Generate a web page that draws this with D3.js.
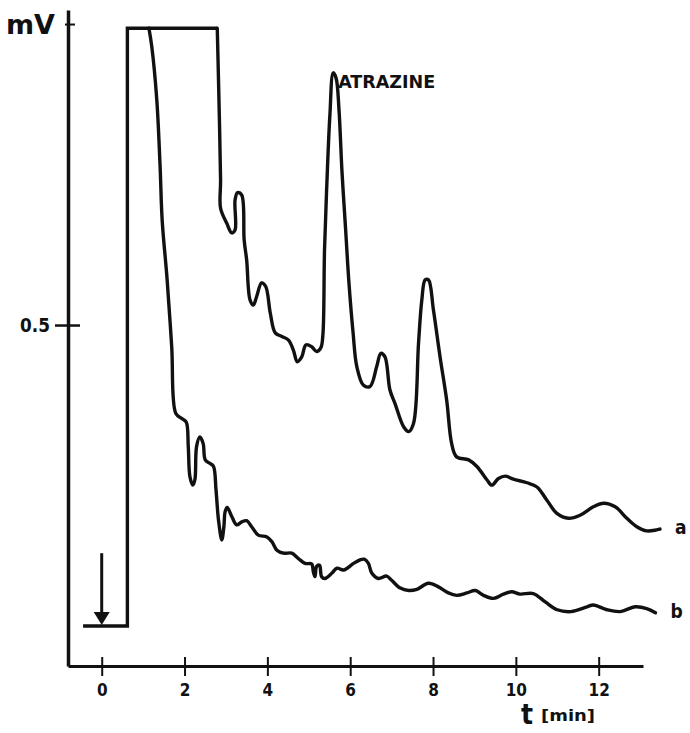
<!DOCTYPE html>
<html>
<head>
<meta charset="utf-8">
<title>Chromatogram - atrazine</title>
<script src="https://cdn.jsdelivr.net/npm/d3@7"></script>
<style>
    html, body { margin: 0; padding: 0; background: #ffffff; }
    svg { display: block; }
    .lbl { font-family: "DejaVu Sans Condensed", "DejaVu Sans", sans-serif; font-weight: bold; fill: #111; }
</style>
</head>
<body>
<svg id="chart"></svg>
<script>
// x ticks (min) and y ticks (mV)
const xTicks = [0, 2, 4, 6, 8, 10, 12];
const yTicks = [0.5];
const yTopTick = [1.0];

// injection baseline, step and off-scale plateau shared by both runs
const stepT = [-0.45, 0.62, 0.62, 2.79];
const stepV = [0, 0, 0.993, 0.993];

// trace a (with atrazine)
const traceAT = [2.79, 2.82, 2.87, 2.87, 3.02, 3.14, 3.22, 3.22, 3.28, 3.38, 3.44, 3.50, 3.58, 3.66, 3.74, 3.86, 3.96,
    4.07, 4.19, 4.35, 4.51, 4.63, 4.72, 4.83, 4.93, 5.07, 5.19, 5.29, 5.34, 5.38, 5.44, 5.51, 5.59, 5.66, 5.73,
    5.80, 5.89, 5.97, 6.07, 6.16, 6.32, 6.48, 6.64, 6.74, 6.84, 6.96, 7.08, 7.29, 7.41, 7.53, 7.65, 7.73,
    7.81, 7.89, 8.01, 8.17, 8.33, 8.45, 8.57, 8.86, 9.06, 9.30, 9.42, 9.58, 9.74, 9.94, 10.27, 10.51, 10.75,
    10.99, 11.27, 11.55, 11.87, 12.12, 12.40, 12.68, 12.92, 13.16, 13.48];
const traceAV = [0.993, 0.907, 0.741, 0.694, 0.669, 0.653, 0.658, 0.708, 0.720, 0.716, 0.641, 0.608, 0.542, 0.533, 0.547, 0.570, 0.564,
    0.520, 0.487, 0.481, 0.475, 0.458, 0.439, 0.447, 0.467, 0.464, 0.456, 0.462, 0.483, 0.625, 0.741, 0.849, 0.919, 0.910, 0.857,
    0.757, 0.658, 0.570, 0.487, 0.431, 0.400, 0.398, 0.431, 0.453, 0.447, 0.392, 0.370, 0.331, 0.323, 0.337, 0.470, 0.542,
    0.575, 0.575, 0.525, 0.447, 0.375, 0.303, 0.281, 0.276, 0.265, 0.243, 0.234, 0.245, 0.249, 0.244, 0.238, 0.231, 0.209,
    0.187, 0.179, 0.184, 0.198, 0.204, 0.198, 0.179, 0.165, 0.158, 0.161];

// trace b (blank)
const traceBT = [1.14, 1.21, 1.33, 1.41, 1.46, 1.58, 1.69, 1.79, 1.93, 2.04, 2.09, 2.13, 2.20, 2.25, 2.29, 2.37, 2.45, 2.50,
    2.62, 2.70, 2.76, 2.82, 2.90, 2.95, 2.98, 3.03, 3.14, 3.26, 3.38, 3.50, 3.62, 3.78, 3.99, 4.11, 4.23, 4.39, 4.59,
    4.75, 4.91, 5.07, 5.11, 5.15, 5.19, 5.26, 5.31, 5.39, 5.56, 5.68, 5.84, 6.08, 6.24, 6.34, 6.44, 6.52, 6.68, 6.88,
    7.00, 7.21, 7.41, 7.61, 7.89, 8.13, 8.37, 8.57, 8.82, 9.02, 9.22, 9.46, 9.70, 9.90, 10.10, 10.42, 10.71, 11.00,
    11.33, 11.72, 11.87, 12.20, 12.52, 12.88, 13.16, 13.37];
const traceBV = [0.993, 0.962, 0.874, 0.763, 0.674, 0.575, 0.464, 0.353, 0.345, 0.339, 0.298, 0.248, 0.234, 0.243, 0.298, 0.314, 0.303, 0.276,
    0.270, 0.265, 0.226, 0.176, 0.143, 0.165, 0.190, 0.197, 0.182, 0.168, 0.173, 0.175, 0.165, 0.151, 0.148, 0.140, 0.126, 0.121, 0.121,
    0.112, 0.104, 0.103, 0.090, 0.082, 0.099, 0.101, 0.082, 0.079, 0.088, 0.096, 0.093, 0.104, 0.110, 0.111, 0.104, 0.088, 0.079, 0.083,
    0.076, 0.063, 0.059, 0.061, 0.071, 0.065, 0.055, 0.051, 0.055, 0.059, 0.051, 0.046, 0.053, 0.057, 0.053, 0.054, 0.040, 0.027,
    0.024, 0.032, 0.035, 0.027, 0.024, 0.032, 0.029, 0.022];

// injection arrow (t, mV from / to)
const arrowT = 0;
const arrowV = [0.121, 0.0];

// annotations
const peakName = 'ATRAZINE';
const peakT = 5.59;
const peakV = 0.920;
const traceLabels = ['a', 'b'];

(function() {
    'use strict';

    const width = 690;
    const height = 733;

    const svg = d3.select('#chart')
        .attr('width', width)
        .attr('height', height);

    svg.append('rect')
        .attr('width', width)
        .attr('height', height)
        .attr('fill', '#ffffff');

    // scales (plot frame runs 68..643 horizontally, 10..666 vertically)
    const x = d3.scaleLinear().domain([-0.814, 13.07]).range([68, 643]);
    const y = d3.scaleLinear().domain([-0.0664, 1.0233]).range([666, 10]);

    const ink = '#111111';

    // X axis, ticks crossing the line
    const xAxis = svg.append('g')
        .attr('transform', `translate(0, ${y.range()[0]})`)
        .call(d3.axisBottom(x).tickValues(xTicks).tickSize(10).tickSizeOuter(0).tickPadding(8));

    xAxis.select('.domain')
        .attr('stroke', ink)
        .attr('stroke-width', 3);

    xAxis.selectAll('.tick line')
        .attr('y1', -9)
        .attr('stroke', ink)
        .attr('stroke-width', 2);

    xAxis.selectAll('.tick text')
        .attr('class', 'lbl')
        .style('font-size', '17px')
        .attr('dy', '0.72em');

    // Y axis with 0.5 tick
    const yAxis = svg.append('g')
        .attr('transform', `translate(${x.range()[0]}, 0)`)
        .call(d3.axisLeft(y).tickValues(yTicks).tickFormat(d3.format('.1f')).tickSize(13).tickSizeOuter(0).tickPadding(5));

    yAxis.select('.domain')
        .attr('stroke', ink)
        .attr('stroke-width', 3.5);

    yAxis.selectAll('.tick line')
        .attr('x2', 12)
        .attr('x1', -13)
        .attr('stroke', ink)
        .attr('stroke-width', 2.5);

    yAxis.selectAll('.tick text')
        .attr('class', 'lbl')
        .style('font-size', '19px')
        .attr('textLength', 30)
        .attr('lengthAdjust', 'spacingAndGlyphs');

    // short top tick (1 mV), right side only
    svg.append('g')
        .attr('transform', `translate(${x.range()[0] - 3}, 0)`)
        .call(d3.axisRight(y).tickValues(yTopTick).tickSize(10).tickSizeOuter(0).tickFormat(''))
        .call(g => g.select('.domain').remove())
        .selectAll('.tick line')
        .attr('stroke', ink)
        .attr('stroke-width', 2);

    // unit labels
    svg.append('text')
        .attr('class', 'lbl')
        .attr('x', 6)
        .attr('y', 34)
        .style('font-size', '26px')
        .attr('textLength', 49)
        .attr('lengthAdjust', 'spacingAndGlyphs')
        .text('mV');

    svg.append('text')
        .attr('class', 'lbl')
        .attr('x', 521)
        .attr('y', 724)
        .style('font-size', '28px')
        .text('t');

    svg.append('text')
        .attr('class', 'lbl')
        .attr('x', 541)
        .attr('y', 721)
        .style('font-size', '15px')
        .attr('textLength', 54)
        .attr('lengthAdjust', 'spacingAndGlyphs')
        .text('[min]');

    // traces
    const toPoints = (ts, vs) => ts.map((t, i) => [t, vs[i]]);

    const straight = d3.line()
        .x(d => x(d[0]))
        .y(d => y(d[1]));

    const smooth = d3.line()
        .x(d => x(d[0]))
        .y(d => y(d[1]))
        .curve(d3.curveCatmullRom.alpha(0.5));

    const traceStyle = sel => sel
        .attr('fill', 'none')
        .attr('stroke', ink)
        .attr('stroke-width', 3.4)
        .attr('stroke-linejoin', 'round')
        .attr('stroke-linecap', 'round');

    svg.append('path')
        .attr('d', straight(toPoints(stepT, stepV)))
        .call(traceStyle)
        .attr('stroke-linejoin', 'miter')
        .attr('stroke-linecap', 'butt');

    svg.append('path')
        .attr('d', smooth(toPoints(traceAT, traceAV)))
        .call(traceStyle);

    svg.append('path')
        .attr('d', smooth(toPoints(traceBT, traceBV)))
        .call(traceStyle);

    // injection arrow
    const ax = x(arrowT);
    svg.append('line')
        .attr('x1', ax)
        .attr('x2', ax)
        .attr('y1', y(arrowV[0]))
        .attr('y2', y(arrowV[1]) - 10)
        .attr('stroke', ink)
        .attr('stroke-width', 3);

    svg.append('path')
        .attr('d', `M${ax - 8},${y(arrowV[1]) - 14} L${ax + 8},${y(arrowV[1]) - 14} L${ax},${y(arrowV[1]) - 1} Z`)
        .attr('fill', ink);

    // peak name
    svg.append('text')
        .attr('class', 'lbl')
        .attr('x', x(peakT) + 5)
        .attr('y', y(peakV) + 16)
        .style('font-size', '17px')
        .attr('textLength', 97)
        .attr('lengthAdjust', 'spacingAndGlyphs')
        .text(peakName);

    // trace end labels
    const ends = [
        [traceAT[traceAT.length - 1], traceAV[traceAV.length - 1]],
        [traceBT[traceBT.length - 1], traceBV[traceBV.length - 1]]
    ];

    traceLabels.forEach((name, i) => {
        svg.append('text')
            .attr('class', 'lbl')
            .attr('x', x(ends[i][0]) + 15)
            .attr('y', y(ends[i][1]) + 5)
            .style('font-size', '19px')
            .text(name);
    });
})();
</script>
</body>
</html>
